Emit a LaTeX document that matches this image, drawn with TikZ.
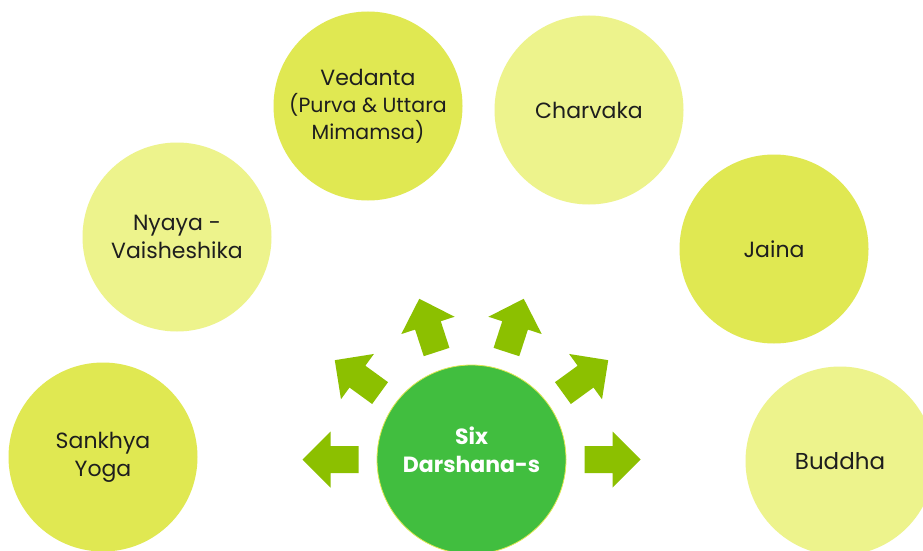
\documentclass[tikz,border=0pt]{standalone}
\usepackage{fontspec}
\setmainfont{Poppins}
\definecolor{darkyel}{HTML}{E0E852}
\definecolor{lightyel}{HTML}{EDF38C}
\definecolor{centergreen}{HTML}{41BE3F}
\definecolor{arrowgreen}{HTML}{8CC000}
\definecolor{textdark}{HTML}{1E1E1E}
\begin{document}
\begin{tikzpicture}[x=1pt,y=-1pt,
  school/.style={circle, minimum size=189pt, inner sep=0pt, align=center,
    text=textdark, font=\fontsize{22}{28}\selectfont},
  darkschool/.style={school, fill=darkyel},
  lightschool/.style={school, fill=lightyel},
  hub/.style={circle, minimum size=189pt, inner sep=0pt, align=center,
    fill=centergreen, draw=darkyel, line width=0.8pt, text=white,
    font=\fontsize{22}{28}\selectfont\bfseries},
  blockarrow/.style={fill=arrowgreen, draw=none}]
\fill[white] (0,0) rectangle (923,551);
\useasboundingbox (0,0) rectangle (923,551);

\node[darkschool]  (vedanta)  at (368,106) {Vedanta\\[-1pt]{\fontsize{20.5}{28}\selectfont (Purva \& Uttara}\\[-1pt]{\fontsize{20.5}{28}\selectfont Mimamsa)}};
\node[lightschool] (charvaka) at (589,110) {Charvaka};
\node[lightschool] (nyaya)    at (177,237) {Nyaya -\\Vaisheshika};
\node[darkschool]  (jaina)    at (774,249) {Jaina};
\node[darkschool]  (sankhya)  at (103,457) {Sankhya\\Yoga};
\node[lightschool] (buddha)   at (840,461) {\fontsize{23}{28}\selectfont Buddha};

\node[hub] (hub) at (471.5,459.5) {};
\node[text=white, align=center, font=\fontsize{22}{28}\selectfont\bfseries] (hubtext) at (471.5,450) {Six\\Darshana-s};

\foreach \ang in {0,36,72,108,144,180}{
  \begin{scope}[shift={(hub.center)}, rotate=\ang]
    \fill[blockarrow] (113,-13.5) -- (141,-13.5) -- (141,-28) -- (169,0)
      -- (141,28) -- (141,13.5) -- (113,13.5) -- cycle;
  \end{scope}
}
\end{tikzpicture}
\end{document}
